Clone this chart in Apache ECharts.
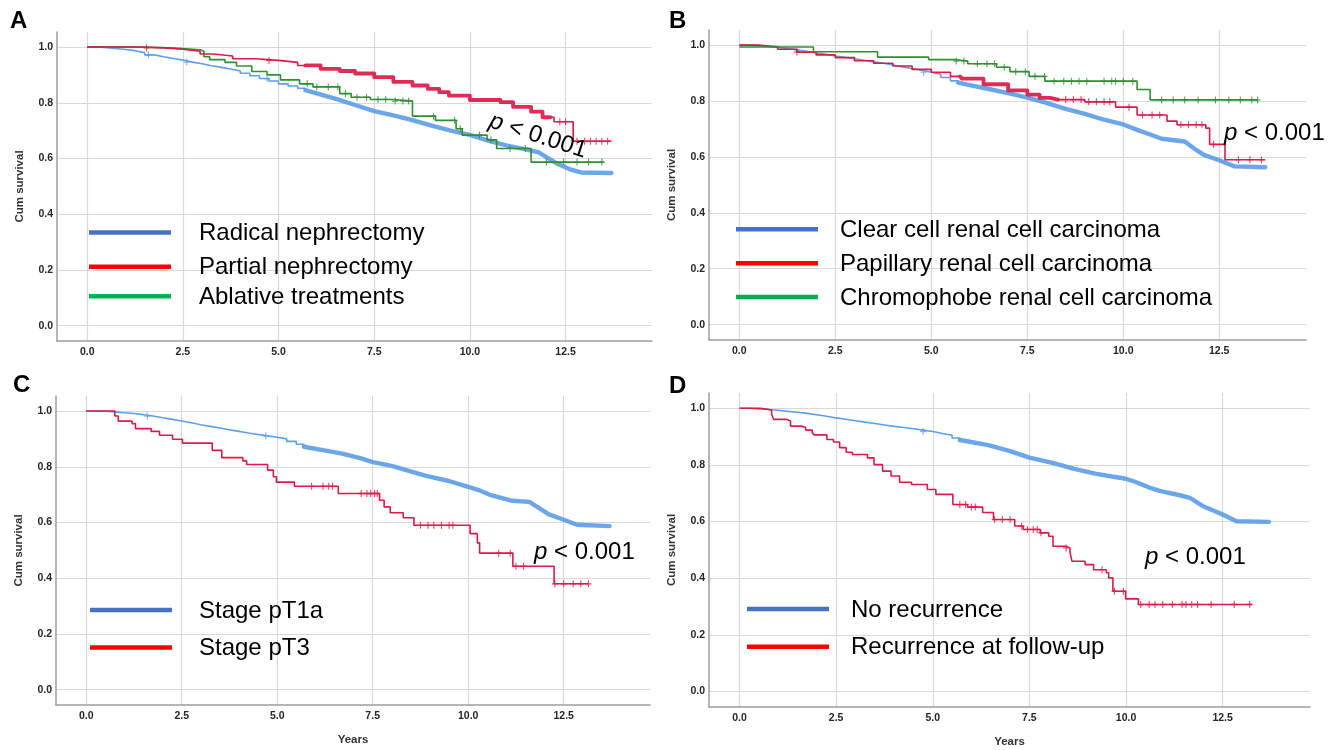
<!DOCTYPE html>
<html><head><meta charset="utf-8">
<script src="https://cdn.jsdelivr.net/npm/echarts@6/dist/echarts.min.js"></script>
<style>html,body{margin:0;padding:0;background:#fff}#c{width:1338px;height:750px}</style>
</head><body><div id="c"></div>
<script>
// ---------- tick values ----------
const xTicks = [0, 2.5, 5, 7.5, 10, 12.5];
const yTicks = [0, 0.2, 0.4, 0.6, 0.8, 1.0];

// ---------- Panel A: surgical treatment ----------
const aLabels = ['Radical nephrectomy', 'Partial nephrectomy', 'Ablative treatments'];
const aRadical = [[0,1],[0.25,0.998],[0.5,0.995],[0.75,0.991],[1.0,0.987],[1.25,0.98],[1.5,0.972],[1.75,0.965],[2.0,0.959],[2.25,0.953],[2.5,0.946],[2.75,0.94],[3.0,0.933],[3.25,0.927],[3.5,0.921],[3.75,0.914],[4.0,0.906],[4.25,0.897],[4.5,0.887],[4.75,0.878],[5.0,0.868],[5.25,0.86],[5.5,0.852],[5.7,0.845],[6.0,0.834],[6.5,0.814],[7.0,0.792],[7.5,0.770],[8.0,0.755],[8.5,0.738],[9.0,0.718],[9.5,0.700],[10.0,0.685],[10.5,0.663],[11.0,0.645],[11.5,0.632],[11.8,0.622],[12.0,0.605],[12.3,0.580],[12.6,0.562],[12.9,0.550],[13.7,0.548]];
const aPartial = [[0,1],[1.4,0.997],[2.0,0.992],[2.5,0.985],[2.95,0.975],[3.3,0.968],[3.8,0.958],[4.4,0.952],[5.0,0.945],[5.5,0.934],[6.1,0.922],[6.6,0.914],[7.0,0.905],[7.5,0.892],[8.0,0.875],[8.5,0.862],[8.9,0.850],[9.2,0.838],[9.45,0.826],[10.0,0.810],[10.8,0.802],[11.13,0.785],[11.6,0.768],[11.9,0.748],[12.2,0.732],[12.7,0.662],[13.7,0.662]];
const aAblative = [[0,1],[1.2,0.997],[2.2,0.99],[2.95,0.985],[3.05,0.965],[3.2,0.955],[3.6,0.945],[3.9,0.932],[4.3,0.912],[4.7,0.9],[5.05,0.882],[5.55,0.868],[5.9,0.857],[6.6,0.833],[6.9,0.82],[7.4,0.812],[8.0,0.806],[8.5,0.752],[9.1,0.737],[9.64,0.707],[9.8,0.684],[10.45,0.667],[10.7,0.636],[11.6,0.587],[13.5,0.587]];
const aRadicalCens = [1.6, 2.6, 4.7];
const aPartialCens = [1.55, 4.75, 12.35, 12.5, 12.8, 13.0, 13.15, 13.3, 13.45, 13.6];
const aAblativeCens = [5.75, 6.0, 6.3, 6.55, 6.75, 7.05, 7.3, 7.6, 7.8, 8.05, 8.25, 8.4, 9.05, 9.6, 9.75, 10.25, 10.55, 11.05, 11.45, 12.0, 12.45, 12.8, 13.1, 13.45];
const aRadicalDense = [5.7, 13.7];
const aPartialDense = [5.7, 12.1];

// ---------- Panel B: histology ----------
const bLabels = ['Clear cell renal cell carcinoma', 'Papillary renal cell carcinoma', 'Chromophobe renal cell carcinoma'];
const bClear = [[0,1],[0.25,0.998],[0.5,0.995],[0.75,0.992],[1.0,0.988],[1.25,0.983],[1.5,0.978],[1.75,0.972],[2.0,0.967],[2.25,0.961],[2.5,0.956],[2.75,0.951],[3.0,0.946],[3.25,0.94],[3.5,0.935],[3.75,0.929],[4.0,0.922],[4.25,0.916],[4.5,0.91],[4.75,0.903],[5.0,0.896],[5.25,0.884],[5.5,0.872],[5.7,0.866],[6.0,0.857],[6.5,0.843],[7.0,0.828],[7.5,0.812],[8.0,0.793],[8.5,0.772],[9.0,0.754],[9.5,0.733],[10.0,0.716],[10.4,0.695],[10.7,0.68],[11.0,0.665],[11.6,0.655],[11.9,0.625],[12.1,0.607],[12.5,0.588],[12.9,0.566],[13.7,0.563]];
const bPapillary = [[0,1],[0.5,0.994],[1.0,0.985],[1.5,0.975],[2.0,0.965],[2.5,0.955],[3.0,0.944],[3.5,0.935],[4.0,0.925],[4.5,0.913],[5.0,0.903],[5.5,0.888],[5.8,0.88],[6.36,0.86],[7.0,0.838],[7.5,0.823],[7.82,0.811],[8.1,0.805],[9.0,0.797],[9.8,0.778],[10.36,0.75],[11.14,0.728],[11.4,0.715],[12.15,0.703],[12.25,0.645],[12.65,0.59],[13.7,0.59]];
const bChromophobe = [[0,0.993],[1.93,0.976],[3.6,0.957],[4.93,0.948],[5.6,0.943],[5.95,0.933],[6.7,0.921],[7.05,0.905],[7.55,0.888],[7.96,0.871],[10.36,0.841],[10.7,0.804],[13.5,0.804]];
const bClearCens = [4.8];
const bPapillaryCens = [1.5, 8.5, 8.7, 8.9, 9.1, 9.3, 9.5, 9.65, 10.15, 10.5, 10.75, 10.95, 11.5, 11.7, 11.9, 12.05, 12.35, 13.0, 13.3, 13.6];
const bChromophobeCens = [5.65, 5.85, 6.2, 6.45, 6.65, 6.9, 7.2, 7.45, 7.7, 7.95, 8.2, 8.45, 8.65, 8.85, 9.05, 9.5, 9.7, 9.8, 10.0, 10.25, 11.0, 11.3, 11.6, 11.95, 12.4, 12.75, 13.05, 13.35, 13.5];
const bClearDense = [5.7, 13.7];
const bPapillaryDense = [5.75, 8.3];

// ---------- Panel C: stage ----------
const cLabels = ['Stage pT1a', 'Stage pT3'];
const cPT1a = [[0,1],[0.25,0.999],[0.5,0.997],[0.75,0.994],[1.0,0.991],[1.25,0.987],[1.5,0.982],[1.75,0.976],[2.0,0.97],[2.25,0.964],[2.5,0.958],[2.75,0.951],[3.0,0.945],[3.25,0.939],[3.5,0.933],[3.75,0.927],[4.0,0.921],[4.25,0.916],[4.5,0.911],[4.75,0.906],[5.0,0.9],[5.25,0.891],[5.5,0.881],[5.7,0.872],[6.2,0.86],[6.7,0.847],[7.2,0.83],[7.5,0.817],[8.0,0.803],[8.4,0.787],[8.9,0.767],[9.5,0.749],[10.0,0.728],[10.3,0.715],[10.6,0.698],[11.15,0.678],[11.6,0.674],[11.9,0.648],[12.1,0.63],[12.5,0.61],[12.85,0.592],[13.7,0.587]];
const cPT3 = [[0,1],[0.75,0.982],[0.84,0.964],[1.2,0.955],[1.29,0.937],[1.7,0.927],[1.92,0.913],[2.26,0.899],[2.52,0.885],[3.3,0.859],[3.55,0.833],[4.1,0.821],[4.2,0.808],[4.75,0.788],[4.9,0.764],[4.98,0.745],[5.45,0.73],[6.6,0.704],[7.68,0.68],[7.8,0.656],[7.96,0.635],[8.3,0.617],[8.58,0.59],[10.05,0.56],[10.24,0.527],[10.3,0.49],[11.17,0.443],[12.25,0.38],[13.15,0.38]];
const cPT1aCens = [1.6, 4.7];
const cPT3Cens = [5.9, 6.2, 6.35, 6.45, 7.2, 7.35, 7.45, 7.55, 7.62, 8.75, 8.95, 9.1, 9.3, 9.5, 9.6, 10.8, 11.1, 11.25, 11.45, 12.27, 12.5, 12.75, 12.95, 13.15];
const cPT1aDense = [5.7, 13.7];

// ---------- Panel D: recurrence ----------
const dLabels = ['No recurrence', 'Recurrence at follow-up'];
const dNoRec = [[0,1],[0.25,0.998],[0.5,0.996],[0.75,0.993],[1.0,0.989],[1.25,0.986],[1.5,0.982],[1.75,0.977],[2.0,0.972],[2.25,0.966],[2.5,0.961],[2.75,0.956],[3.0,0.951],[3.25,0.946],[3.5,0.941],[3.75,0.936],[4.0,0.932],[4.25,0.928],[4.5,0.923],[4.75,0.918],[5.0,0.911],[5.25,0.905],[5.5,0.895],[5.7,0.888],[6.0,0.881],[6.46,0.869],[7.0,0.849],[7.5,0.826],[8.1,0.807],[8.66,0.786],[9.2,0.769],[9.6,0.76],[10.0,0.751],[10.3,0.737],[10.6,0.72],[10.87,0.708],[11.42,0.692],[11.65,0.684],[11.98,0.655],[12.5,0.625],[12.86,0.601],[13.7,0.599]];
const dRec = [[0,1],[0.55,0.994],[0.83,0.979],[0.88,0.961],[1.21,0.955],[1.32,0.937],[1.6,0.932],[1.71,0.923],[1.88,0.914],[1.93,0.906],[2.26,0.89],[2.43,0.881],[2.59,0.861],[2.76,0.845],[2.92,0.837],[3.31,0.825],[3.48,0.801],[3.7,0.778],[3.92,0.761],[4.14,0.739],[4.45,0.731],[4.86,0.713],[5.08,0.696],[5.52,0.66],[5.9,0.651],[6.29,0.632],[6.57,0.607],[7.12,0.584],[7.34,0.572],[7.78,0.56],[8.0,0.548],[8.11,0.513],[8.44,0.507],[8.55,0.492],[8.6,0.46],[8.94,0.448],[9.16,0.43],[9.49,0.419],[9.55,0.401],[9.66,0.354],[9.99,0.327],[10.32,0.307],[13.25,0.307]];
const dNoRecCens = [4.75];
const dRecCens = [5.7, 5.85, 6.0, 6.1, 6.6, 6.8, 7.0, 7.3, 7.45, 7.6, 7.7, 7.8, 8.45, 9.38, 9.7, 9.93, 10.38, 10.6, 10.75, 10.95, 11.2, 11.45, 11.55, 11.7, 11.85, 12.2, 12.8, 13.2];
const dNoRecDense = [5.7, 13.7];

const pText = 'p < 0.001';

// ---------- styling ----------
const FONT = "'Liberation Sans', Arial, Helvetica, sans-serif";
const BLUE = '#5f9ee8', RED = '#dc1a48', GREEN = '#2f8f33';
const LEG_BLUE = '#4472c4', LEG_RED = '#ff0000', LEG_GREEN = '#00b050';

function survAt(curve, t) {
  let s = curve[0][1];
  for (const p of curve) { if (p[0] <= t) s = p[1]; else break; }
  return s;
}
function partBefore(curve, range) {
  if (!range) return curve;
  const out = curve.filter(p => p[0] < range[0]);
  out.push([range[0], survAt(curve, range[0])]);
  return out;
}
function partDense(curve, range) {
  const out = [[range[0], survAt(curve, range[0])]];
  curve.forEach(p => { if (p[0] > range[0] && p[0] <= range[1]) out.push(p); });
  if (out[out.length - 1][0] < range[1]) out.push([range[1], survAt(curve, range[1])]);
  return out;
}
function partAfter(curve, range) {
  const rest = curve.filter(p => p[0] > range[1]);
  if (!rest.length) return null;
  return [[range[1], survAt(curve, range[1])]].concat(rest);
}

const panels = [
  { letter: 'A', lx: 10, ly: 21, grid: {left: 57, top: 32, width: 595, height: 309}, years: false,
    curves: [
      {data: aRadical, cens: aRadicalCens, dense: aRadicalDense, step: false, color: BLUE},
      {data: aAblative, cens: aAblativeCens, dense: null, color: GREEN},
      {data: aPartial, cens: aPartialCens, dense: aPartialDense, step: true, color: RED}],
    legend: {labels: aLabels, colors: [LEG_BLUE, LEG_RED, LEG_GREEN], x0: 89, x1: 171, tx: 199, ys: [232.5, 266.7, 296.3]},
    p: {x: 538, y: 136, rot: -18, align: 'center'} },
  { letter: 'B', lx: 669, ly: 21, grid: {left: 709, top: 30, width: 597, height: 310}, years: false,
    curves: [
      {data: bClear, cens: bClearCens, dense: bClearDense, step: false, color: BLUE},
      {data: bPapillary, cens: bPapillaryCens, dense: bPapillaryDense, step: true, color: RED},
      {data: bChromophobe, cens: bChromophobeCens, dense: null, color: GREEN}],
    legend: {labels: bLabels, colors: [LEG_BLUE, LEG_RED, LEG_GREEN], x0: 736, x1: 818, tx: 840, ys: [229.3, 263.3, 297]},
    p: {x: 1224, y: 133, rot: 0, align: 'left'} },
  { letter: 'C', lx: 13, ly: 385, grid: {left: 56, top: 396, width: 594, height: 309}, years: true,
    curves: [
      {data: cPT1a, cens: cPT1aCens, dense: cPT1aDense, step: false, color: BLUE},
      {data: cPT3, cens: cPT3Cens, dense: null, color: RED}],
    legend: {labels: cLabels, colors: [LEG_BLUE, LEG_RED], x0: 90, x1: 172, tx: 199, ys: [610, 647.5]},
    p: {x: 534, y: 552.5, rot: 0, align: 'left'} },
  { letter: 'D', lx: 669, ly: 386, grid: {left: 709, top: 393, width: 601, height: 314}, years: true,
    curves: [
      {data: dNoRec, cens: dNoRecCens, dense: dNoRecDense, step: false, color: BLUE},
      {data: dRec, cens: dRecCens, dense: null, color: RED}],
    legend: {labels: dLabels, colors: [LEG_BLUE, LEG_RED], x0: 747, x1: 829, tx: 851, ys: [609, 646.7]},
    p: {x: 1145, y: 557, rot: 0, align: 'left'} }
];

const grids = [], xAxes = [], yAxes = [], series = [], graphics = [];
const tickLabel = {fontFamily: FONT, fontSize: 10.5, fontWeight: 'bold', color: '#262626'};
const nameStyle = {fontFamily: FONT, fontSize: 11.5, fontWeight: 'bold', color: '#333'};
const CROSS = 'path://M5,0L5,10M0,5L10,5';

function thinLine(gi, data, color) {
  return {type: 'line', xAxisIndex: gi, yAxisIndex: gi, step: 'end', showSymbol: false, silent: true,
    data: data, lineStyle: {color: color, width: 1.6}, z: 3};
}

panels.forEach((pn, gi) => {
  grids.push(Object.assign({containLabel: false}, pn.grid));
  xAxes.push({
    type: 'value', gridIndex: gi, min: -0.79, max: 14.76,
    axisLine: {show: true, onZero: false, lineStyle: {color: '#9e9e9e', width: 1.5}},
    axisTick: {show: false, customValues: xTicks},
    axisLabel: Object.assign({customValues: xTicks, formatter: v => v.toFixed(1), margin: 6}, tickLabel),
    splitLine: {show: true, lineStyle: {color: '#d9d9d9', width: 1.2}},
    name: pn.years ? 'Years' : '', nameLocation: 'middle', nameGap: 29, nameTextStyle: nameStyle
  });
  yAxes.push({
    type: 'value', gridIndex: gi, min: -0.055, max: 1.054,
    axisLine: {show: true, onZero: false, lineStyle: {color: '#9e9e9e', width: 1.5}},
    axisTick: {show: false, customValues: yTicks},
    axisLabel: Object.assign({customValues: yTicks, formatter: v => v.toFixed(1), margin: 4}, tickLabel),
    splitLine: {show: true, lineStyle: {color: '#d9d9d9', width: 1.2}},
    name: 'Cum survival', nameLocation: 'middle', nameRotate: 90, nameGap: 31, nameTextStyle: nameStyle
  });
  pn.curves.forEach(cv => {
    series.push(thinLine(gi, partBefore(cv.data, cv.dense), cv.color));
    if (cv.dense) {
      series.push({type: 'line', xAxisIndex: gi, yAxisIndex: gi, showSymbol: false, silent: true,
        step: cv.step ? 'end' : false,
        data: partDense(cv.data, cv.dense),
        lineStyle: {color: cv.color, width: cv.step ? 3.8 : 4.4, opacity: 0.92, join: 'round', cap: 'round'}, z: 3});
      const after = partAfter(cv.data, cv.dense);
      if (after) series.push(thinLine(gi, after, cv.color));
    }
    series.push({type: 'scatter', xAxisIndex: gi, yAxisIndex: gi, silent: true, symbol: CROSS, symbolSize: [6, 7],
      data: cv.cens.map(t => [t, survAt(cv.data, t)]),
      itemStyle: {color: 'rgba(0,0,0,0)', borderColor: cv.color, borderWidth: 1.2}, z: 4});
  });
  graphics.push({type: 'text', x: pn.lx, y: pn.ly, silent: true,
    style: {text: pn.letter, fontFamily: FONT, fontSize: 24, fontWeight: 'bold', fill: '#000', align: 'left', verticalAlign: 'middle'}});
  pn.legend.labels.forEach((lab, i) => {
    const y = pn.legend.ys[i];
    graphics.push({type: 'rect', silent: true, shape: {x: pn.legend.x0, y: y - 2.25, width: pn.legend.x1 - pn.legend.x0, height: 4.5},
      style: {fill: pn.legend.colors[i]}, z: 10});
    graphics.push({type: 'text', silent: true, x: pn.legend.tx, y: y + 1, z: 10,
      style: {text: lab, fontFamily: FONT, fontSize: 24, fill: '#000', align: 'left', verticalAlign: 'middle'}});
  });
  graphics.push({type: 'text', silent: true, x: pn.p.x, y: pn.p.y, rotation: pn.p.rot * Math.PI / 180, z: 10,
    style: {text: '{i|p}' + pText.slice(1), fontFamily: FONT, fontSize: 24, fill: '#000', align: pn.p.align, verticalAlign: 'middle',
      rich: {i: {fontStyle: 'italic', fontFamily: FONT, fontSize: 24, fill: '#000'}}}});
});

const chart = echarts.init(document.getElementById('c'), null, {renderer: 'canvas'});
chart.setOption({
  animation: false,
  backgroundColor: '#fff',
  grid: grids, xAxis: xAxes, yAxis: yAxes, series: series, graphic: graphics
});
</script></body></html>
